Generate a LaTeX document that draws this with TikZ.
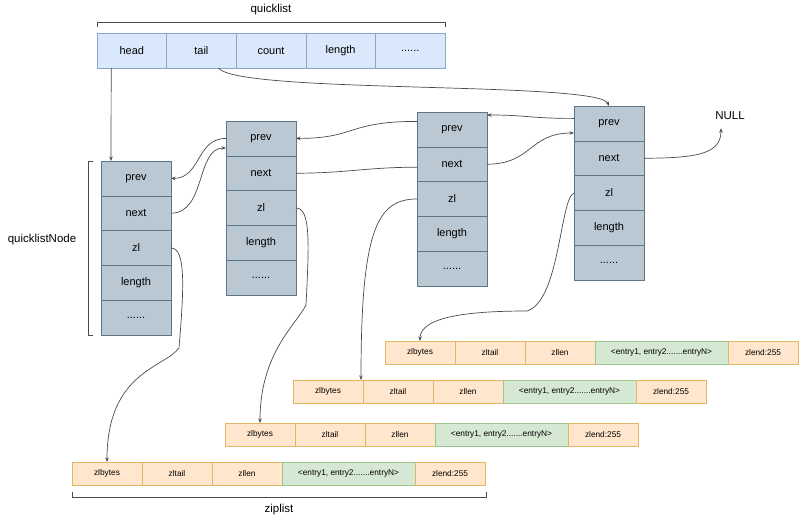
\documentclass[tikz,border=0pt]{standalone}
\usepackage{fontspec}
\setmainfont{Liberation Sans}
\usetikzlibrary{arrows.meta,calc}

\definecolor{headfill}{HTML}{DAE8FC}
\definecolor{headline}{HTML}{8AA6CC}
\definecolor{nodefill}{HTML}{BAC8D3}
\definecolor{nodeline}{HTML}{5F7689}
\definecolor{zipfill}{HTML}{FFE6CC}
\definecolor{zipline}{HTML}{E3B665}
\definecolor{entfill}{HTML}{D5E8D4}
\definecolor{entline}{HTML}{9CC48E}
\definecolor{wirecol}{HTML}{4A4A4A}

\tikzset{
  headcell/.style={draw=headline, fill=headfill, minimum width=69.6pt,
    minimum height=35pt, inner sep=0pt, outer sep=0pt,
    font=\fontsize{11}{13}\selectfont},
  nodecell/.style={draw=nodeline, fill=nodefill, minimum width=70pt,
    minimum height=34.8pt, inner sep=0pt, outer sep=0pt,
    font=\fontsize{11}{13}\selectfont},
  zipcell/.style={draw=zipline, fill=zipfill, minimum width=70pt,
    minimum height=23.5pt, inner sep=0pt, outer sep=0pt,
    font=\fontsize{8.3}{10}\selectfont},
  entcell/.style={zipcell, draw=entline, fill=entfill, minimum width=133pt},
  title/.style={font=\fontsize{11.5}{13}\selectfont, inner sep=1pt},
  bracket/.style={draw=wirecol, line width=0.6pt},
  wire/.style={draw=wirecol, line width=0.7pt},
  link/.style={wire, -{Stealth[length=4.5pt,width=3.5pt]}},
}

\begin{document}
\begin{tikzpicture}[x=1pt,y=-1pt]
\useasboundingbox[fill=white] (0,0) rectangle (800,520);

% quicklist header
\node[headcell, anchor=north west] (qhead) at (97,33) {head};
\node[headcell, anchor=west] (qtail) at (qhead.east) {tail};
\node[headcell, anchor=west] (qcount) at (qtail.east) {count};
\node[headcell, anchor=west] (qlength) at (qcount.east) {length};
\node[headcell, anchor=west] (qmore) at (qlength.east) {......};

\node[title] (qltitle) at (271,10) {quicklist};
\draw[bracket] (97,27) -- (97,22) -- (445,22) -- (445,27);

% quicklist nodes
\foreach \i/\x/\y in {1/101/161, 2/226/121, 3/417/112, 4/574/106} {
  \node[nodecell, anchor=north west] (n\i-prev) at (\x,\y) {prev};
  \node[nodecell, anchor=north] (n\i-next) at (n\i-prev.south) {next};
  \node[nodecell, anchor=north] (n\i-zl) at (n\i-next.south) {zl};
  \node[nodecell, anchor=north] (n\i-length) at (n\i-zl.south) {length};
  \node[nodecell, anchor=north] (n\i-more) at (n\i-length.south) {......};
}

\node[title] (nodetitle) at (42,240) {quicklistNode};
\draw[bracket] (93,161) -- (88,161) -- (88,335) -- (93,335);

\node[title] (null) at (730,116) {NULL};

% ziplists
\foreach \i/\x/\y in {1/385/341, 2/293/380, 3/225/423, 4/72/462} {
  \node[zipcell, anchor=north west] (zip\i-bytes) at (\x,\y) {zlbytes};
  \node[zipcell, anchor=west] (zip\i-tail) at (zip\i-bytes.east) {zltail};
  \node[zipcell, anchor=west] (zip\i-len) at (zip\i-tail.east) {zllen};
  \node[entcell, anchor=west] (zip\i-entry) at (zip\i-len.east)
    {<entry1, entry2.......entryN>};
  \node[zipcell, anchor=west] (zip\i-end) at (zip\i-entry.east) {zlend:255};
}

\node[title] (ziptitle) at (279,510) {ziplist};
\draw[bracket] (72,492) -- (72,497) -- (486,497) -- (486,492);

% head and tail
\draw[link] ([xshift=-20.6pt]qhead.south) -- ([xshift=-25pt]n1-prev.north);
\draw[link] ([xshift=17pt]qtail.south) .. controls +(20,26) and +(-10,-25)
  .. (n4-prev.north);

% prev / next
\draw[link] (n1-next.east) .. controls +(35,0) and +(-30,0)
  .. ([yshift=-9.6pt]n2-prev.west);
\draw[link] (n2-prev.west) .. controls +(-30,0) and +(30,0) .. (n1-prev.east);
\draw[link] ([yshift=8pt]n3-prev.west) .. controls +(-70,0) and +(60,0)
  .. (n2-prev.east);
\draw[wire] (n2-next.east) .. controls +(50,0) and +(-50,0)
  .. ([yshift=-3pt]n3-next.west);
\draw[link] ([yshift=5pt]n4-prev.west) .. controls +(-45,0) and +(40,0)
  .. ([yshift=-3pt]n3-prev.north east);
\draw[link] (n3-next.east) .. controls +(45,0) and +(-45,0)
  .. ([yshift=-9.6pt]n4-prev.west);
\draw[link] (n4-next.east) .. controls +(55,0) and +(0,25)
  .. ([xshift=-9pt,yshift=-7pt]null.south);

% zl -> ziplist
\draw[link] (n1-zl.east) .. controls +(15,0) and +(5,-60) .. ++(8,100)
  .. controls +(-15,20) and +(0,-90) .. (zip4-bytes.north);
\draw[link] (n2-zl.east) .. controls +(15,0) and +(3,-60) .. ++(10,97)
  .. controls +(-10,20) and +(0,-70) .. (zip3-bytes.north);
\draw[link] (n3-zl.west) .. controls +(-40,0) and +(0,-150)
  .. ([xshift=-2pt]zip2-bytes.north east);
\draw[link] (n4-zl.west) .. controls +(-14,5) and +(33,-10) .. ++(-47,118)
  .. controls +(-55,0) and +(0,-25) .. (zip1-bytes.north);
\end{tikzpicture}
\end{document}
